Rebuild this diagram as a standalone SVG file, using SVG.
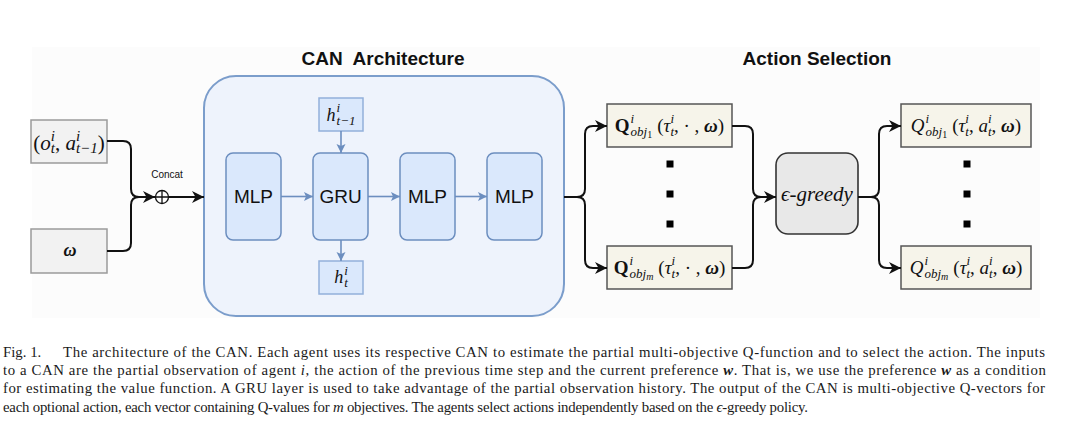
<svg xmlns="http://www.w3.org/2000/svg" width="1068" height="429" viewBox="0 0 1068 429">
<style>
.sans{font-family:"Liberation Sans",Arial,sans-serif;}
.serif{font-family:"Liberation Serif","DejaVu Serif",serif;fill:#111;}
.i{font-style:italic;}
.title{font-family:"Liberation Sans",Arial,sans-serif;font-weight:bold;font-size:19px;fill:#111;white-space:pre;}
.lbl{font-family:"Liberation Sans",Arial,sans-serif;font-size:19px;fill:#111;}
.inbox{fill:#f2f2f2;stroke:#9a9a9a;stroke-width:1.5;}
.blk{fill:#dae8fc;stroke:#6c8ebf;stroke-width:1.5;}
.hbox{fill:#dae8fc;stroke:#92b0da;stroke-width:1.5;}
.qbox{fill:#f6f4ea;stroke:#555;stroke-width:1.5;}
.edge{fill:none;stroke:#111;stroke-width:2;}
.bedge{fill:none;stroke:#6c8ebf;stroke-width:1.6;}
.cap{font-family:"Liberation Serif","Times New Roman",serif;font-size:14.8px;fill:#1a1a1a;}
</style>
<defs>
<marker id="ah" markerUnits="userSpaceOnUse" markerWidth="13" markerHeight="12" refX="12" refY="6" orient="auto">
<path d="M0,0 L12,6 L0,12 L3.5,6 z" fill="#111"/>
</marker>
<marker id="bh" markerUnits="userSpaceOnUse" markerWidth="10" markerHeight="10" refX="9" refY="5" orient="auto">
<path d="M0,0.5 L9,5 L0,9.5 L2,5 z" fill="#6c8ebf"/>
</marker>
</defs>
<rect x="32" y="47" width="1008" height="271" fill="#fcfcfc"/>

<text class="title" x="383" y="65" text-anchor="middle">CAN  Architecture</text>
<text class="title" x="817" y="65" text-anchor="middle">Action Selection</text>

<g id="can">
<rect x="204" y="76" width="360" height="240" rx="32" fill="#eef3fc" stroke="#7b9dcb" stroke-width="2"/>
</g>

<g id="input-obs">
<rect class="inbox" x="31" y="120" width="76" height="43"/>
<text class="serif" x="69" y="150" text-anchor="middle" font-size="21">(<tspan class="i">o</tspan><tspan font-size="15" class="i" dy="-9">i</tspan><tspan font-size="15" class="i" dx="-4.2" dy="12">t</tspan><tspan dy="-3">, </tspan><tspan class="i">a</tspan><tspan font-size="15" class="i" dy="-9">i</tspan><tspan font-size="15" class="i" dx="-4.2" dy="12">t−1</tspan><tspan dy="-3">)</tspan></text>
</g>
<g id="input-pref">
<rect class="inbox" x="31" y="229" width="76" height="44"/>
<text class="serif i" x="70" y="256" text-anchor="middle" font-size="18" font-weight="bold">ω</text>
</g>

<g id="concat">
<circle cx="162" cy="197" r="6.5" fill="#fff" stroke="#111" stroke-width="1.3"/>
<path d="M155.5,197 H168.5 M162,190.5 V203.5" stroke="#111" stroke-width="1.3"/>
<text class="sans" x="167" y="178" text-anchor="middle" font-size="10" fill="#111">Concat</text>
</g>

<g id="mlp1"><rect class="blk" x="226" y="153" width="55" height="87" rx="7"/><text class="lbl" x="253.5" y="203" text-anchor="middle">MLP</text></g>
<g id="gru"><rect class="blk" x="313" y="153" width="55" height="87" rx="7"/><text class="lbl" x="340.5" y="203" text-anchor="middle">GRU</text></g>
<g id="mlp2"><rect class="blk" x="400" y="153" width="55" height="87" rx="7"/><text class="lbl" x="427.5" y="203" text-anchor="middle">MLP</text></g>
<g id="mlp3"><rect class="blk" x="487" y="153" width="55" height="87" rx="7"/><text class="lbl" x="514.5" y="203" text-anchor="middle">MLP</text></g>

<g id="h-prev">
<rect class="hbox" x="319" y="98" width="44" height="33"/>
<text class="serif" x="341" y="121" text-anchor="middle" font-size="18"><tspan class="i">h</tspan><tspan font-size="13" class="i" dx="1" dy="-9">i</tspan><tspan font-size="13" class="i" dx="-3.6" dy="13">t−1</tspan></text>
</g>
<g id="h-cur">
<rect class="hbox" x="319" y="261" width="44" height="33"/>
<text class="serif" x="341" y="283" text-anchor="middle" font-size="18"><tspan class="i">h</tspan><tspan font-size="13" class="i" dx="1" dy="-8">i</tspan><tspan font-size="13" class="i" dx="-3.6" dy="12">t</tspan></text>
</g>

<g id="q-obj1">
<rect class="qbox" x="607" y="104" width="125" height="43"/>
<text class="serif" x="669.5" y="132" text-anchor="middle" font-size="19"><tspan font-weight="bold">Q</tspan><tspan font-size="13" class="i" dx="1" dy="-9">i</tspan><tspan font-size="13" class="i" dx="-3.6" dy="13">obj</tspan><tspan font-size="10" dy="2">1</tspan><tspan dx="5" dy="-6">(</tspan><tspan class="i">τ</tspan><tspan font-size="13" class="i" dy="-9">i</tspan><tspan font-size="13" class="i" dx="-3.6" dy="13">t</tspan><tspan dy="-4">, · , </tspan><tspan class="i" font-weight="bold">ω</tspan>)</text>
</g>
<g id="q-dots1">
<rect x="666.5" y="160.5" width="7" height="7" fill="#000"/>
<rect x="666.5" y="190.5" width="7" height="7" fill="#000"/>
<rect x="666.5" y="220.5" width="7" height="7" fill="#000"/>
</g>
<g id="q-objm">
<rect class="qbox" x="607" y="246" width="125" height="43"/>
<text class="serif" x="669.5" y="274" text-anchor="middle" font-size="19"><tspan font-weight="bold">Q</tspan><tspan font-size="13" class="i" dx="1" dy="-9">i</tspan><tspan font-size="13" class="i" dx="-3.6" dy="13">obj</tspan><tspan font-size="10" class="i" dy="2">m</tspan><tspan dx="5" dy="-6">(</tspan><tspan class="i">τ</tspan><tspan font-size="13" class="i" dy="-9">i</tspan><tspan font-size="13" class="i" dx="-3.6" dy="13">t</tspan><tspan dy="-4">, · , </tspan><tspan class="i" font-weight="bold">ω</tspan>)</text>
</g>

<g id="greedy">
<rect x="776" y="153" width="82" height="81" rx="12" fill="#e8e8e8" stroke="#333" stroke-width="1.6"/>
<text class="serif i" x="817" y="201" text-anchor="middle" font-size="21">ϵ-greedy</text>
</g>

<g id="out-obj1">
<rect class="qbox" x="901" y="104" width="130" height="43"/>
<text class="serif" x="966" y="132" text-anchor="middle" font-size="19"><tspan class="i">Q</tspan><tspan font-size="13" class="i" dx="1" dy="-9">i</tspan><tspan font-size="13" class="i" dx="-3.6" dy="13">obj</tspan><tspan font-size="10" dy="2">1</tspan><tspan dx="5" dy="-6">(</tspan><tspan class="i">τ</tspan><tspan font-size="13" class="i" dy="-9">i</tspan><tspan font-size="13" class="i" dx="-3.6" dy="13">t</tspan><tspan dy="-4">, </tspan><tspan class="i">a</tspan><tspan font-size="13" class="i" dy="-9">i</tspan><tspan font-size="13" class="i" dx="-3.6" dy="13">t</tspan><tspan dy="-4">, </tspan><tspan class="i" font-weight="bold">ω</tspan>)</text>
</g>
<g id="out-dots">
<rect x="963.5" y="160.5" width="7" height="7" fill="#000"/>
<rect x="963.5" y="190.5" width="7" height="7" fill="#000"/>
<rect x="963.5" y="220.5" width="7" height="7" fill="#000"/>
</g>
<g id="out-objm">
<rect class="qbox" x="901" y="246" width="130" height="43"/>
<text class="serif" x="966" y="274" text-anchor="middle" font-size="19"><tspan class="i">Q</tspan><tspan font-size="13" class="i" dx="1" dy="-9">i</tspan><tspan font-size="13" class="i" dx="-3.6" dy="13">obj</tspan><tspan font-size="10" class="i" dy="2">m</tspan><tspan dx="5" dy="-6">(</tspan><tspan class="i">τ</tspan><tspan font-size="13" class="i" dy="-9">i</tspan><tspan font-size="13" class="i" dx="-3.6" dy="13">t</tspan><tspan dy="-4">, </tspan><tspan class="i">a</tspan><tspan font-size="13" class="i" dy="-9">i</tspan><tspan font-size="13" class="i" dx="-3.6" dy="13">t</tspan><tspan dy="-4">, </tspan><tspan class="i" font-weight="bold">ω</tspan>)</text>
</g>

<g id="connectors">
<path class="edge" d="M107,141 H123 Q131,141 131,149 V189 Q131,197 139,197 H155" marker-end="url(#ah)"/>
<path class="edge" d="M107,251 H123 Q131,251 131,243 V205 Q131,197 139,197"/>
<path class="edge" d="M168.5,197 H204" marker-end="url(#ah)"/>
<path class="edge" d="M564,197 H577 Q585,197 585,189 V134 Q585,126 593,126 H607" marker-end="url(#ah)"/>
<path class="edge" d="M577,197 Q585,197 585,205 V260 Q585,268 593,268 H607" marker-end="url(#ah)"/>
<path class="edge" d="M732,126 H745 Q753,126 753,134 V189 Q753,197 761,197 H776" marker-end="url(#ah)"/>
<path class="edge" d="M732,268 H745 Q753,268 753,260 V205 Q753,197 761,197"/>
<path class="edge" d="M858,197 H871 Q879,197 879,189 V134 Q879,126 887,126 H901" marker-end="url(#ah)"/>
<path class="edge" d="M871,197 Q879,197 879,205 V260 Q879,268 887,268 H901" marker-end="url(#ah)"/>
<path class="bedge" d="M281,196.5 H313" marker-end="url(#bh)"/>
<path class="bedge" d="M368,196.5 H400" marker-end="url(#bh)"/>
<path class="bedge" d="M455,196.5 H487" marker-end="url(#bh)"/>
<path class="bedge" d="M341,131 V153" marker-end="url(#bh)"/>
<path class="bedge" d="M341,240 V261" marker-end="url(#bh)"/>
</g>

<g id="caption" class="cap">
<text x="3" y="356.7">Fig. 1.</text>
<text x="63" y="356.7" textLength="982" lengthAdjust="spacing">The architecture of the CAN. Each agent uses its respective CAN to estimate the partial multi-objective Q-function and to select the action. The inputs</text>
<text x="3" y="375" textLength="1043" lengthAdjust="spacing">to a CAN are the partial observation of agent <tspan font-style="italic">i</tspan>, the action of the previous time step and the current preference <tspan font-style="italic" font-weight="bold">w</tspan>. That is, we use the preference <tspan font-style="italic" font-weight="bold">w</tspan> as a condition</text>
<text x="3" y="393.3" textLength="1042" lengthAdjust="spacing">for estimating the value function. A GRU layer is used to take advantage of the partial observation history. The output of the CAN is multi-objective Q-vectors for</text>
<text x="3" y="411.7" textLength="805" lengthAdjust="spacing">each optional action, each vector containing Q-values for <tspan font-style="italic">m</tspan> objectives. The agents select actions independently based on the <tspan font-style="italic">ϵ</tspan>-greedy policy.</text>
</g>
</svg>
